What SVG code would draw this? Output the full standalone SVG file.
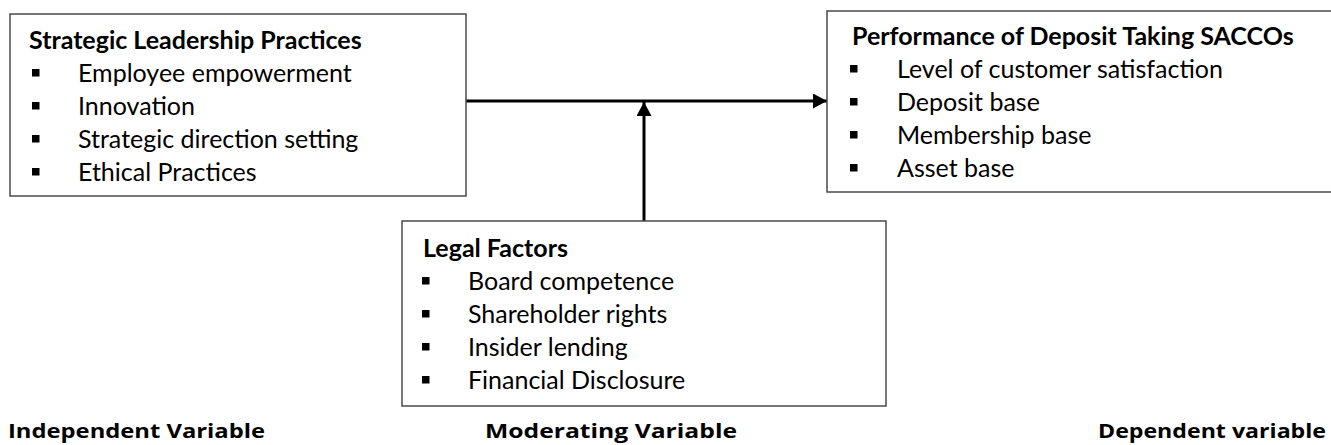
<svg xmlns="http://www.w3.org/2000/svg" width="1331" height="445" viewBox="0 0 1331 445">
<style>
.box{fill:#fff;stroke:#4a4a4a;stroke-width:1.5}
.t{font-family:Lato,"Liberation Sans",sans-serif;font-size:25px;fill:#000}
.h{font-family:Lato,"Liberation Sans",sans-serif;font-size:25px;font-weight:bold;fill:#000}
.lab{font-family:"Open Sans",Lato,sans-serif;font-size:20px;font-weight:bold;fill:#000}
.b{fill:#000}
.conn{stroke:#000;stroke-width:3;fill:none}
</style>
<defs>
<marker id="ah" markerUnits="userSpaceOnUse" markerWidth="16" markerHeight="16" refX="14" refY="7.5" orient="auto">
<path d="M0,0 L14,7.5 L0,15 z" fill="#000"/>
</marker>
</defs>
<g id="connectors">
<line class="conn" x1="466" y1="101" x2="827" y2="101" marker-end="url(#ah)"/>
<line class="conn" x1="644" y1="221" x2="644" y2="102" marker-end="url(#ah)"/>
</g>
<g id="independent">
<rect class="box" x="10" y="14" width="456" height="182"/>
<text class="h" x="29" y="49">Strategic Leadership Practices</text>
<rect class="b" x="32" y="69" width="7.5" height="7.5"/><text class="t" x="78" y="82">Employee empowerment</text>
<rect class="b" x="32" y="102" width="7.5" height="7.5"/><text class="t" x="78" y="115">Innovation</text>
<rect class="b" x="32" y="135" width="7.5" height="7.5"/><text class="t" x="78" y="148">Strategic direction setting</text>
<rect class="b" x="32" y="168" width="7.5" height="7.5"/><text class="t" x="78" y="181">Ethical Practices</text>
</g>
<g id="dependent">
<rect class="box" x="827" y="11" width="520" height="181"/>
<text class="h" x="852" y="45">Performance of Deposit Taking SACCOs</text>
<rect class="b" x="850" y="65" width="7.5" height="7.5"/><text class="t" x="897" y="78">Level of customer satisfaction</text>
<rect class="b" x="850" y="98" width="7.5" height="7.5"/><text class="t" x="897" y="111">Deposit base</text>
<rect class="b" x="850" y="131" width="7.5" height="7.5"/><text class="t" x="897" y="144">Membership base</text>
<rect class="b" x="850" y="164" width="7.5" height="7.5"/><text class="t" x="897" y="177">Asset base</text>
</g>
<g id="moderating">
<rect class="box" x="402" y="221" width="484" height="185"/>
<text class="h" x="423" y="257">Legal Factors</text>
<rect class="b" x="422" y="277" width="7.5" height="7.5"/><text class="t" x="468" y="290">Board competence</text>
<rect class="b" x="422" y="310" width="7.5" height="7.5"/><text class="t" x="468" y="323">Shareholder rights</text>
<rect class="b" x="422" y="343" width="7.5" height="7.5"/><text class="t" x="468" y="356">Insider lending</text>
<rect class="b" x="422" y="376" width="7.5" height="7.5"/><text class="t" x="468" y="389">Financial Disclosure</text>
</g>
<g id="labels">
<text class="lab" x="8" y="438" textLength="257" lengthAdjust="spacingAndGlyphs">Independent Variable</text>
<text class="lab" x="485" y="438" textLength="252" lengthAdjust="spacingAndGlyphs">Moderating Variable</text>
<text class="lab" x="1098" y="438" textLength="228" lengthAdjust="spacingAndGlyphs">Dependent variable</text>
</g>
</svg>
